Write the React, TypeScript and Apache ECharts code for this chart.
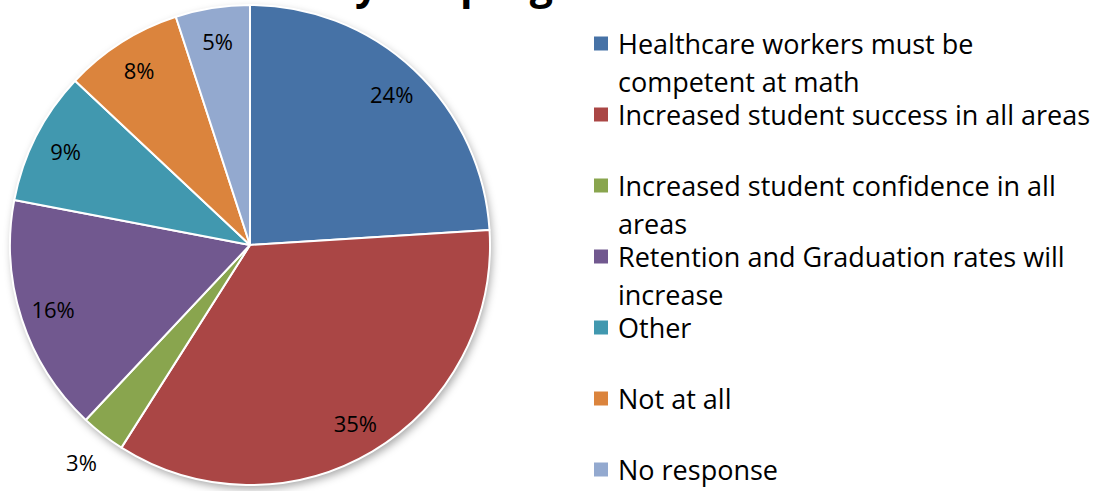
import React, { useEffect, useRef } from "react";
import * as echarts from "echarts";

const categories = [
  "Healthcare workers must be competent at math",
  "Increased student success in all areas",
  "Increased student confidence in all areas",
  "Retention and Graduation rates will increase",
  "Other",
  "Not at all",
  "No response",
];
const legendLines = [
  ["Healthcare workers must be", "competent at math"],
  ["Increased student success in all areas"],
  ["Increased student confidence in all", "areas"],
  ["Retention and Graduation rates will", "increase"],
  ["Other"],
  ["Not at all"],
  ["No response"],
];
const values = [24, 35, 3, 16, 9, 8, 5];
const outsideLabelIndex = [2];
const colors = ["#4672A6", "#AA4645", "#89A54E", "#71588F", "#4198AF", "#DB843D", "#93A9CF"];
const titleText = "your program?";

const FONT = "'Open Sans', Lato, sans-serif";

export default function App() {
  const ref = useRef<HTMLDivElement>(null);
  useEffect(() => {
    document.body.style.margin = "0";
    const chart = echarts.init(ref.current!, null, { renderer: "svg" });
    const cx = 250, cy = 245, R = 240;
    const legendLH = 38;
    const legends = categories.map((name, i) => {
      const lines = legendLines[i];
      const multi = lines.length > 1;
      const iconCenter = 43.5 + 71 * i;
      const boxH = multi ? legendLH * 3 : legendLH;
      return {
        orient: "vertical",
        left: 592,
        top: iconCenter - boxH / 2,
        padding: 0,
        icon: "rect",
        itemWidth: 16,
        itemHeight: 16,
        data: [name],
        formatter: () => (multi ? "\n" + lines.join("\n") : lines[0]),
        textStyle: {
          fontFamily: FONT,
          fontSize: 27,
          lineHeight: legendLH,
          color: "#000",
          padding: [0, 0, 0, 4],
        },
        selectedMode: false,
      };
    });
    const pieData = categories.map((name, i) => ({
      name,
      value: values[i],
      itemStyle: { color: colors[i] },
    }));
    const labelStyle = {
      show: true,
      position: "inside",
      formatter: "{c}%",
      fontFamily: FONT,
      fontSize: 22,
      color: "#000",
    };
    chart.setOption({
      animation: false,
      title: {
        text: titleText,
        left: 355,
        top: -38,
        padding: 0,
        textStyle: { fontFamily: FONT, fontSize: 41, fontWeight: "bold", color: "#000" },
      },
      legend: legends,
      series: [
        {
          type: "pie",
          name: "shadow",
          center: [cx, cy],
          radius: [0, R],
          silent: true,
          z: 1,
          label: { show: false },
          labelLine: { show: false },
          data: [{ value: 1, name: "__bg" }],
          itemStyle: {
            color: "#ffffff",
            shadowBlur: 8,
            shadowOffsetX: 2,
            shadowOffsetY: 4,
            shadowColor: "rgba(0,0,0,0.35)",
          },
        },
        {
          type: "pie",
          name: "main",
          center: [cx, cy],
          radius: [0, R],
          startAngle: 90,
          clockwise: true,
          z: 2,
          label: { show: false },
          labelLine: { show: false },
          emphasis: { disabled: true },
          itemStyle: { borderColor: "#ffffff", borderWidth: 2 },
          data: pieData,
        },
        {
          type: "pie",
          name: "labels",
          center: [cx, cy],
          radius: [R * 0.7, R],
          startAngle: 90,
          clockwise: true,
          silent: true,
          z: 3,
          itemStyle: { color: "rgba(0,0,0,0)" },
          labelLine: { show: false },
          label: labelStyle,
          data: categories.map((name, i) => ({
            name,
            value: values[i],
            label: { show: !outsideLabelIndex.includes(i) },
          })),
        },
        {
          type: "pie",
          name: "labelsOut",
          center: [cx, cy],
          radius: [R, R * 1.267],
          startAngle: 90,
          clockwise: true,
          silent: true,
          z: 3,
          itemStyle: { color: "rgba(0,0,0,0)" },
          labelLine: { show: false },
          label: labelStyle,
          data: categories.map((name, i) => ({
            name,
            value: values[i],
            label: { show: outsideLabelIndex.includes(i) },
          })),
        },
      ],
    });
    return () => chart.dispose();
  }, []);
  return <div ref={ref} style={{ width: 1113, height: 491 }} />;
}
